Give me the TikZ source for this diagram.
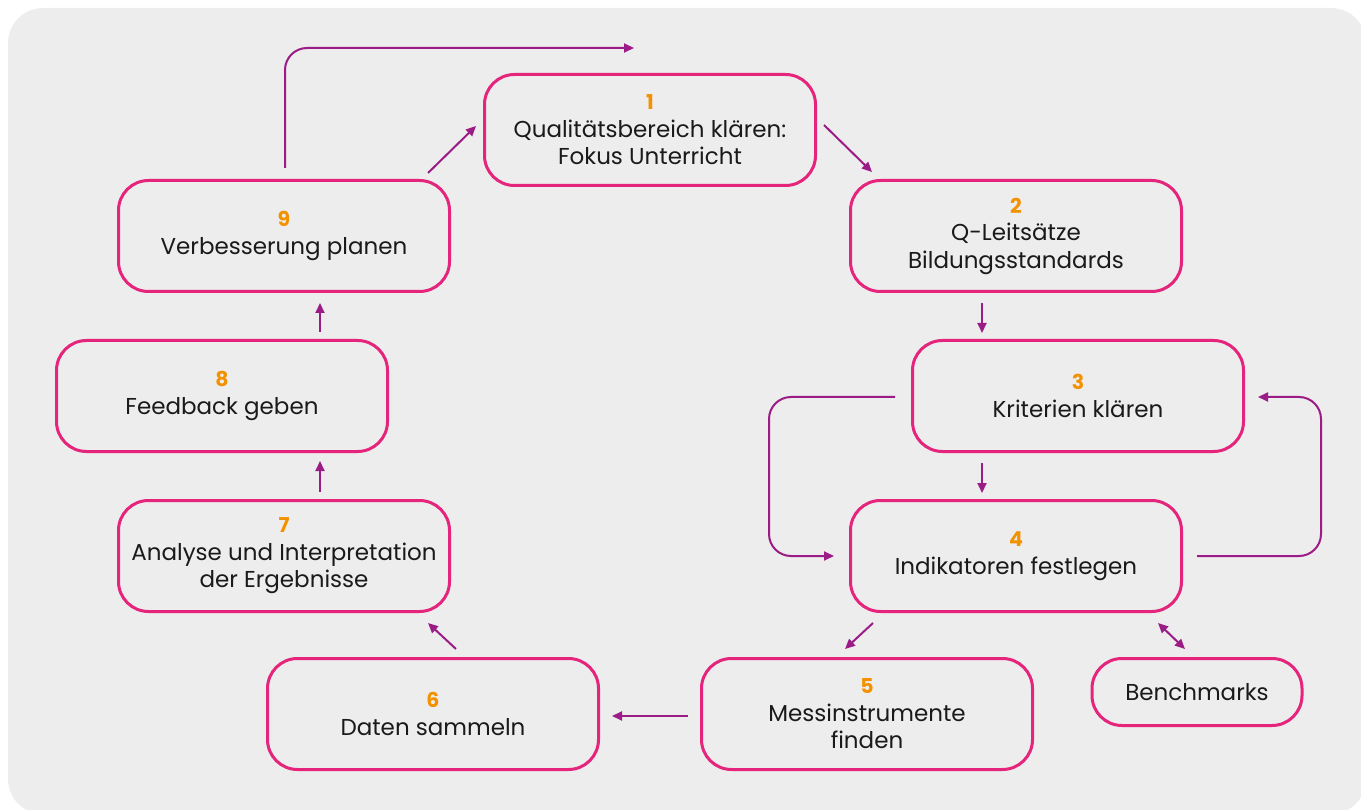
\documentclass[tikz,border=0pt]{standalone}
\usepackage{fontspec}
\setmainfont{Poppins}
\usetikzlibrary{arrows.meta}
\definecolor{bgray}{HTML}{EDEDED}
\definecolor{boxpink}{HTML}{E5247B}
\definecolor{arrpurple}{HTML}{9C1C87}
\definecolor{numorange}{HTML}{F39200}
\definecolor{txt}{HTML}{1A1A1A}
\tikzset{
  stepbox/.style={draw=boxpink, line width=3pt, rounded corners=30pt,
    minimum width=331pt, minimum height=111pt, align=center, text=txt,
    font=\fontsize{23}{27.5}\selectfont, inner sep=0pt},
  smallbox/.style={stepbox, minimum width=210pt, minimum height=67pt},
  flow/.style={draw=arrpurple, line width=2pt, -{Triangle[length=10pt,width=9pt]}},
  both/.style={draw=arrpurple, line width=2pt, {Triangle[length=10pt,width=9pt]}-{Triangle[length=10pt,width=9pt]}},
}
\newcommand{\stepno}[1]{{\fontsize{20.5}{27.5}\selectfont\color{numorange}\bfseries #1}}
\begin{document}
\begin{tikzpicture}[x=1pt, y=-1pt]
\useasboundingbox (0,0) rectangle (1361,810);
\clip (0,0) rectangle (1361,810);
\fill[bgray, rounded corners=35pt] (8,8) rectangle (1366,814);

\node[stepbox] (n1) at (650,130) {\stepno{1}\\Qualitätsbereich klären:\\Fokus Unterricht};
\node[stepbox] (n2) at (1016,236) {\stepno{2}\\Q-Leitsätze\\Bildungsstandards};
\node[stepbox] (n3) at (1078,396) {\stepno{3}\\Kriterien klären};
\node[stepbox] (n4) at (1016,556) {\stepno{4}\\Indikatoren festlegen};
\node[stepbox] (n5) at (867,714) {\stepno{5}\\Messinstrumente\\finden};
\node[stepbox] (n6) at (433,714) {\stepno{6}\\Daten sammeln};
\node[stepbox] (n7) at (284,556) {\stepno{7}\\Analyse und Interpretation\\der Ergebnisse};
\node[stepbox] (n8) at (222,396) {\stepno{8}\\Feedback geben};
\node[stepbox] (n9) at (284,236) {\stepno{9}\\Verbesserung planen};
\node[smallbox] (nb) at (1197,692) {Benchmarks};

\coordinate (topend) at (634,48);

% main cycle
\draw[flow] ([shift={(-23,-6)}]n9.north east) -- ([shift={(-7,-4)}]n1.west);
\draw[flow] ([shift={(7,-5)}]n1.east) -- ([shift={(23,-7)}]n2.north west);
\draw[flow] ([shift={(-34,10)}]n2.south) -- ([shift={(-96,-6)}]n3.north);
\draw[flow] ([shift={(-96,10)}]n3.south) -- ([shift={(-34,-6)}]n4.north);
\draw[flow] ([shift={(24,10)}]n4.south west) -- ([shift={(-22,-8)}]n5.north);
\draw[both] ([shift={(-25,10)}]n4.south east) -- ([shift={(-12,-8)}]nb.north);
\draw[flow] ([shift={(-12,2)}]n5.west) -- ([shift={(12,2)}]n6.east);
\draw[flow] ([shift={(23,-8)}]n6.north) -- ([shift={(-23,10)}]n7.south east);
\draw[flow] ([shift={(36,-7)}]n7.north) -- ([shift={(98,8)}]n8.south);
\draw[flow] ([shift={(98,-7)}]n8.north) -- ([shift={(36,10)}]n9.south);

% feedback loops between 3 and 4
\draw[flow, rounded corners=22pt] ([shift={(-16,1)}]n3.west) -- ++(-126,0) |- ([shift={(-15,0)}]n4.west);
\draw[flow, rounded corners=22pt] ([shift={(14,0)}]n4.east) -- ++(124,0) |- ([shift={(13,1)}]n3.east);

% loop back over the top
\draw[flow, rounded corners=22pt] ([shift={(1,-11)}]n9.north) |- (topend);
\end{tikzpicture}
\end{document}
